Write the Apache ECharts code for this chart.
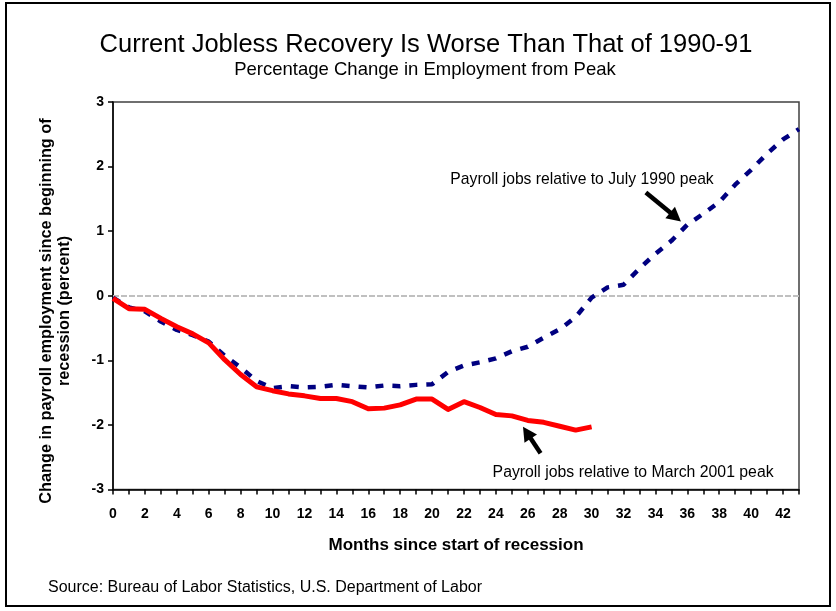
<!DOCTYPE html>
<html><head><meta charset="utf-8">
<script src="https://cdn.jsdelivr.net/npm/echarts@6/dist/echarts.min.js"></script>
<style>html,body{margin:0;padding:0;background:#fff}#c{width:836px;height:611px}</style>
</head><body><div id="c"></div>
<script>
// ---- data ----
const months1990 = [0,1,2,3,4,5,6,7,8,9,10,11,12,13,14,15,16,17,18,19,20,21,22,23,24,25,26,27,28,29,30,31,32,33,34,35,36,37,38,39,40,41,42,43];
const jobs1990 = [-0.03,-0.18,-0.24,-0.40,-0.53,-0.61,-0.71,-0.93,-1.11,-1.32,
  -1.43,-1.40,-1.42,-1.41,-1.38,-1.40,-1.42,-1.39,-1.40,-1.38,
  -1.37,-1.18,-1.08,-1.03,-0.97,-0.86,-0.79,-0.65,-0.52,-0.33,
  -0.03,0.13,0.17,0.42,0.65,0.85,1.10,1.27,1.45,1.72,
  1.95,2.20,2.42,2.58];
const months2001 = [0,1,2,3,4,5,6,7,8,9,10,11,12,13,14,15,16,17,18,19,20,21,22,23,24,25,26,27,28,29,30];
const jobs2001 = [-0.04,-0.20,-0.21,-0.35,-0.48,-0.59,-0.73,-0.99,-1.22,-1.41,
  -1.47,-1.52,-1.55,-1.59,-1.59,-1.64,-1.75,-1.74,-1.69,-1.60,
  -1.60,-1.76,-1.64,-1.73,-1.84,-1.86,-1.93,-1.96,-2.02,-2.08,
  -2.03];
const xMin = 0, xMax = 43, xStep = 1;
const yMin = -3, yMax = 3, yStep = 1;

const titleText = 'Current Jobless Recovery Is Worse Than That of 1990-91';
const subtitleText = 'Percentage Change in Employment from Peak';
const yName = 'Change in payroll employment since beginning of\nrecession (percent)';
const xName = 'Months since start of recession';
const sourceText = 'Source: Bureau of Labor Statistics, U.S. Department of Labor';
const note1990 = 'Payroll jobs relative to July 1990 peak';
const note2001 = 'Payroll jobs relative to March 2001 peak';
// annotation anchors in data coordinates [month, percent]
const note1990Pos = [29.4, 1.80], arrow1990 = [[33.4, 1.60], [35.6, 1.15]];
const note2001Pos = [32.6, -2.74], arrow2001 = [[26.8, -2.44], [25.7, -2.03]];

const FONT = 'Liberation Sans, Arial, sans-serif';
const chart = echarts.init(document.getElementById('c'), null, {renderer: 'canvas'});

chart.setOption({
  animation: false,
  backgroundColor: '#fff',
  grid: {left: 113, right: 37, top: 102, bottom: 121.5, show: true, borderColor: '#404040', borderWidth: 1.5, containLabel: false},
  xAxis: {
    type: 'value', min: xMin, max: xMax, interval: xStep,
    name: xName, nameLocation: 'middle', nameGap: 47,
    nameTextStyle: {fontFamily: FONT, fontWeight: 'bold', fontSize: 17, color: '#000'},
    axisLine: {show: true, onZero: false, lineStyle: {color: '#000', width: 1.5}},
    axisTick: {show: true, length: 5, lineStyle: {color: '#000', width: 1.5}},
    axisLabel: {fontFamily: FONT, fontWeight: 'bold', fontSize: 14, color: '#000', margin: 18,
      formatter: v => (Number.isInteger(v) && v % 2 === 0 && v <= 42) ? String(v) : ''},
    splitLine: {show: false}
  },
  yAxis: {
    type: 'value', min: yMin, max: yMax, interval: yStep,
    axisLine: {show: true, onZero: false, lineStyle: {color: '#000', width: 1.5}},
    axisTick: {show: true, length: 5, lineStyle: {color: '#000', width: 1.5}},
    axisLabel: {fontFamily: FONT, fontWeight: 'bold', fontSize: 14, color: '#000', margin: 9},
    splitLine: {show: false}
  },
  series: [
    {
      name: '1990', type: 'line', showSymbol: false, symbol: 'none',
      data: months1990.map((m, i) => [m, jobs1990[i]]),
      lineStyle: {color: '#000080', width: 4.5, type: [8, 9], cap: 'butt', join: 'round'},
      markLine: {silent: true, symbol: 'none', label: {show: false}, z: 1,
        lineStyle: {color: '#c0c0c0', width: 2, type: [6, 2]},
        data: [{yAxis: 0}]},
      z: 2
    },
    {
      name: '2001', type: 'line', showSymbol: false, symbol: 'none',
      data: months2001.map((m, i) => [m, jobs2001[i]]),
      lineStyle: {color: '#ff0000', width: 5, cap: 'butt', join: 'round'},
      z: 3
    }
  ]
});

function P(p) { return chart.convertToPixel({gridIndex: 0}, p); }
function arrow(a) {
  const t = P(a[0]), h = P(a[1]);
  const dx = h[0] - t[0], dy = h[1] - t[1], L = Math.hypot(dx, dy);
  const ux = dx / L, uy = dy / L, hl = 14, hw = 7.5;
  const bx = h[0] - ux * hl, by = h[1] - uy * hl;
  return [
    {type: 'line', shape: {x1: t[0], y1: t[1], x2: bx + ux * 2, y2: by + uy * 2}, style: {stroke: '#000', lineWidth: 4.5}, z: 10},
    {type: 'polygon', shape: {points: [[h[0], h[1]], [bx - uy * hw, by + ux * hw], [bx + uy * hw, by - ux * hw]]}, style: {fill: '#000'}, z: 10}
  ];
}
const n1 = P(note1990Pos), n2 = P(note2001Pos);
chart.setOption({
  graphic: [
    {type: 'rect', shape: {x: 6, y: 3, width: 824, height: 603}, style: {fill: 'none', stroke: '#000', lineWidth: 2}, z: 0},
    {type: 'text', x: 426, y: 45, style: {text: titleText, font: 'normal 25.5px ' + FONT, fill: '#000', align: 'center', verticalAlign: 'middle'}},
    {type: 'text', x: 425, y: 70, style: {text: subtitleText, font: 'normal 18.5px ' + FONT, fill: '#000', align: 'center', verticalAlign: 'middle'}},
    {type: 'text', x: 56, y: 311, rotation: Math.PI / 2, style: {text: yName, font: 'bold 16.3px ' + FONT, fill: '#000', align: 'center', verticalAlign: 'middle', lineHeight: 18}},
    {type: 'text', x: 48, y: 588, style: {text: sourceText, font: 'normal 16px ' + FONT, fill: '#000', align: 'left', verticalAlign: 'middle'}},
    {type: 'text', x: n1[0], y: n1[1], style: {text: note1990, font: 'normal 15.7px ' + FONT, fill: '#000', align: 'center', verticalAlign: 'middle'}, z: 10},
    {type: 'text', x: n2[0], y: n2[1], style: {text: note2001, font: 'normal 15.8px ' + FONT, fill: '#000', align: 'center', verticalAlign: 'middle'}, z: 10},
    ...arrow(arrow1990),
    ...arrow(arrow2001)
  ]
});
</script>
</body></html>
